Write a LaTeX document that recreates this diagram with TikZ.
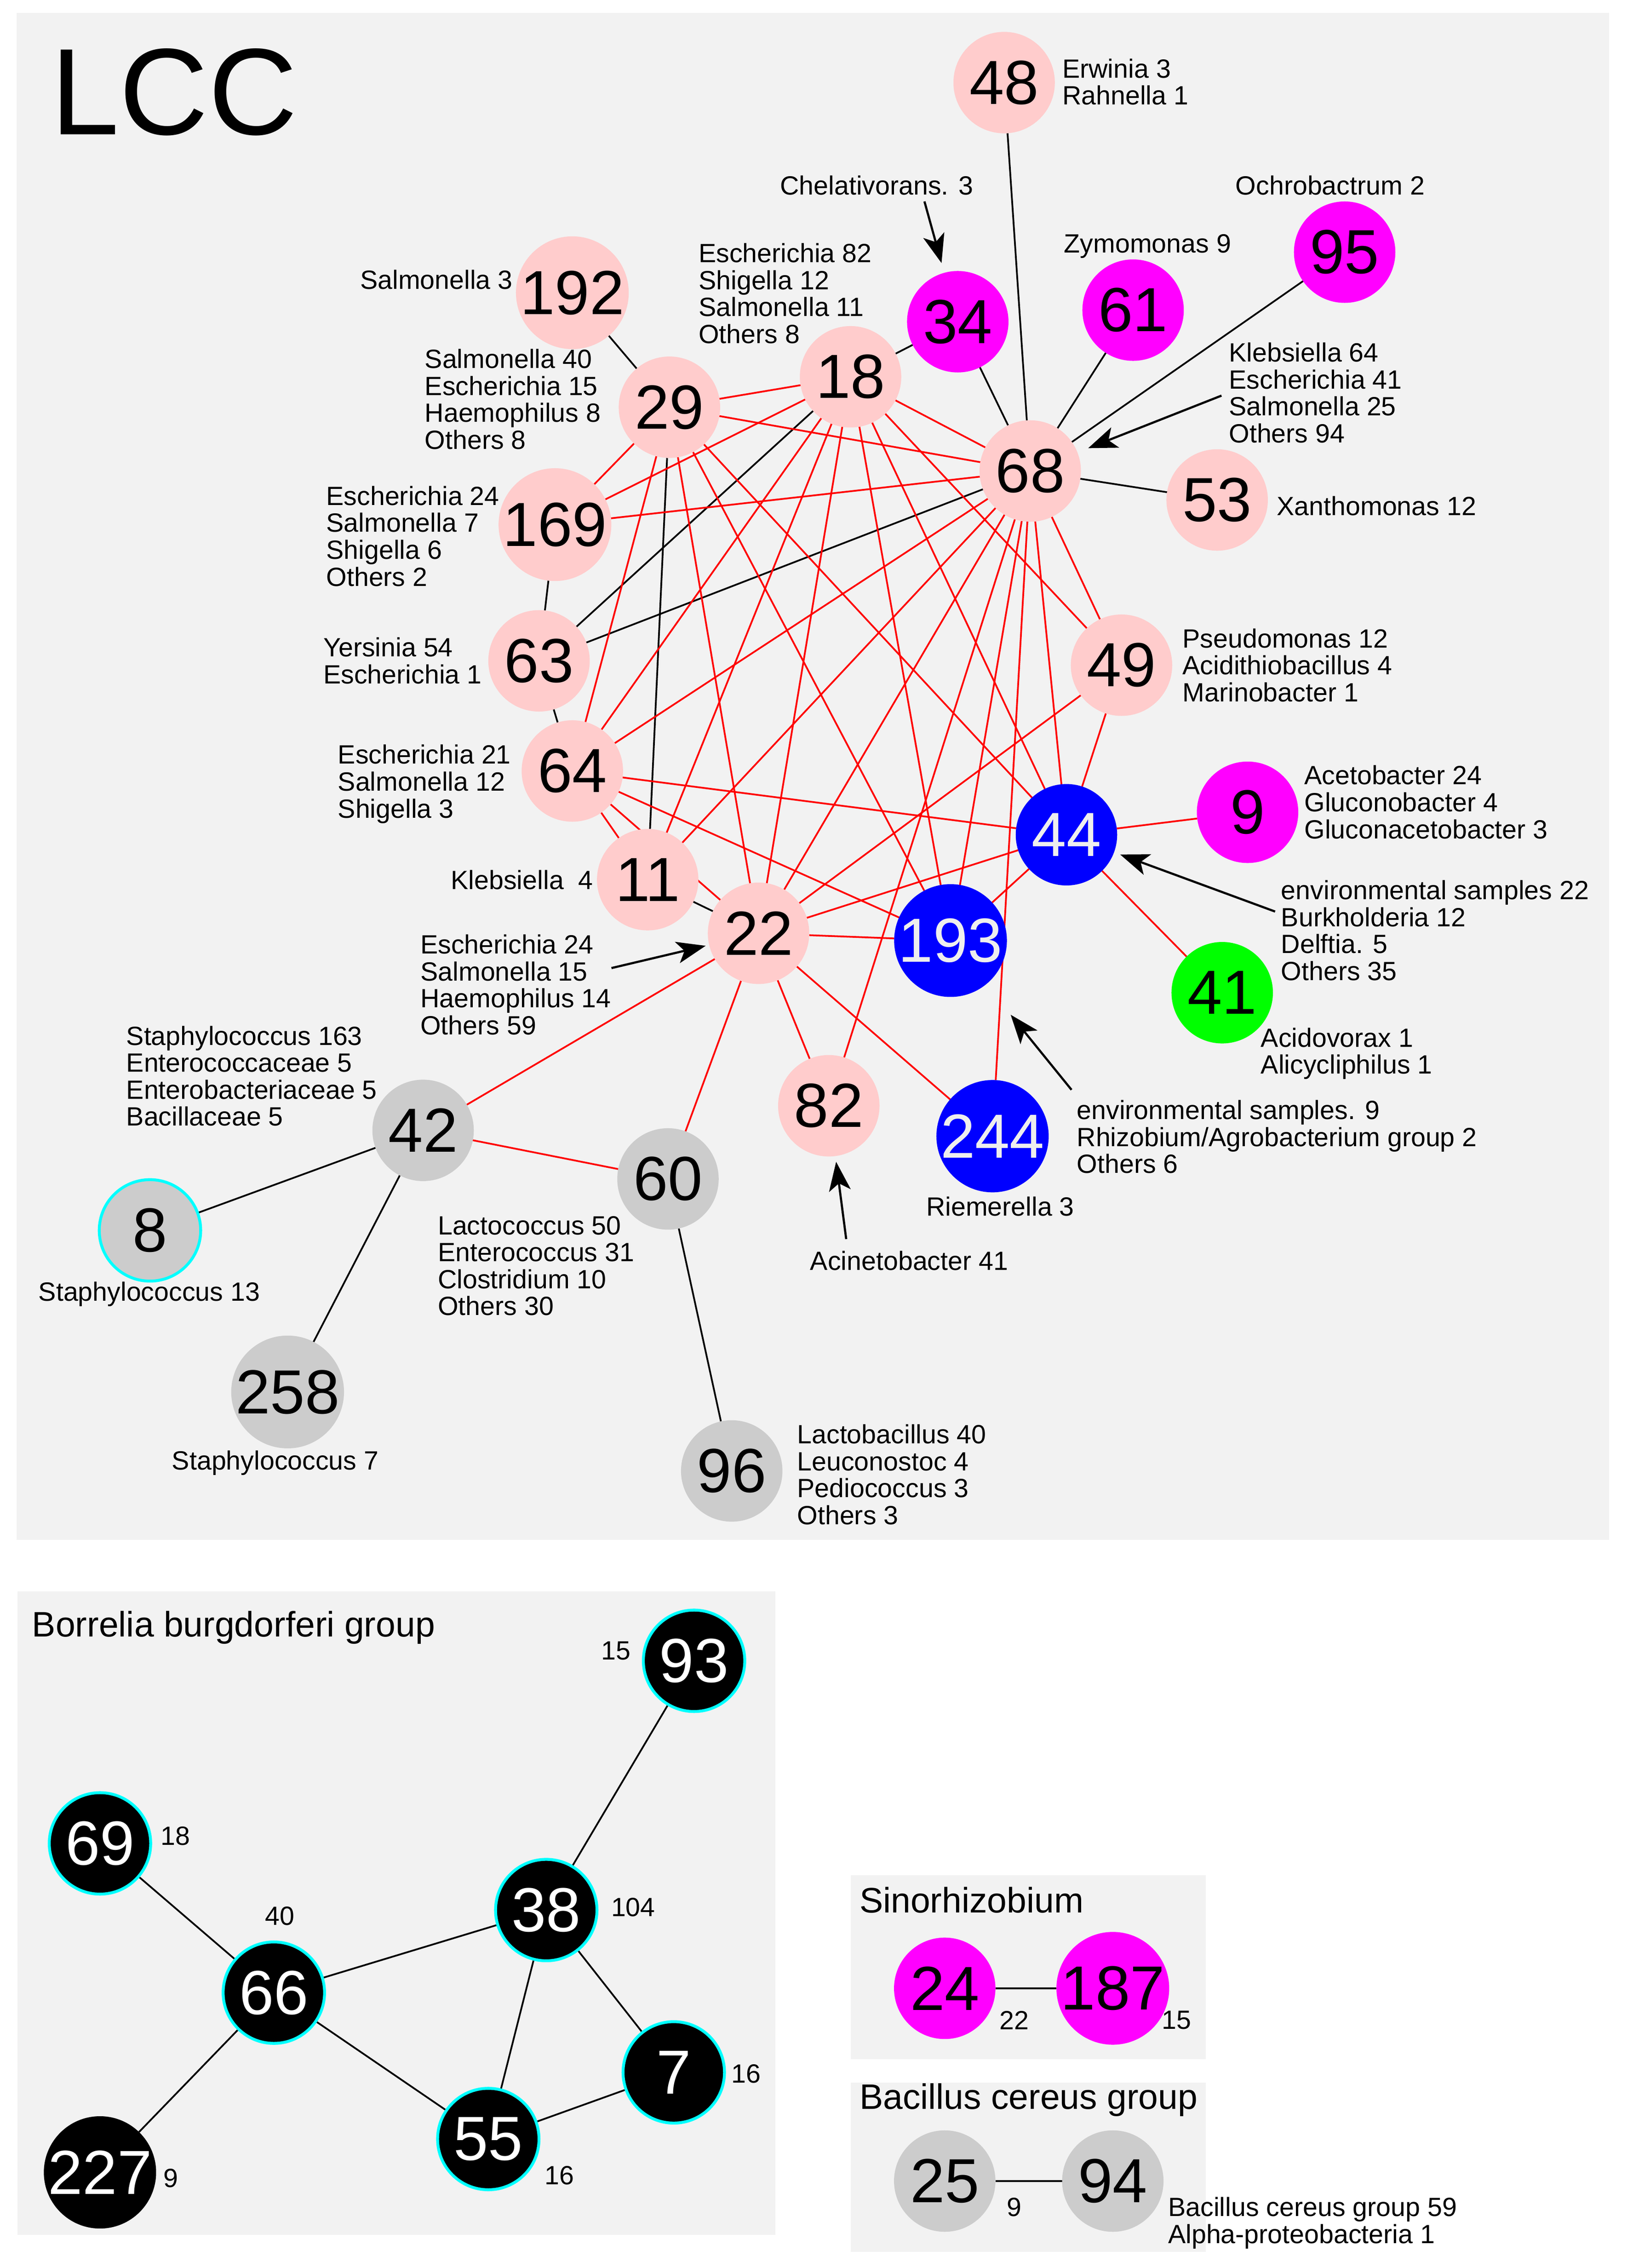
\documentclass[tikz,border=0pt]{standalone}
\usepackage{fontspec}
\setmainfont{Liberation Sans}
\usetikzlibrary{arrows.meta}
\definecolor{npink}{HTML}{FFCCCC}
\definecolor{nmag}{HTML}{FF00FF}
\definecolor{nblue}{HTML}{0000FF}
\definecolor{ngreen}{HTML}{00FF00}
\definecolor{ngray}{HTML}{CCCCCC}
\definecolor{ncyan}{HTML}{00FFFF}
\definecolor{panelbg}{HTML}{F2F2F2}
\definecolor{ered}{HTML}{FF0000}
\definecolor{ntext}{HTML}{EEEEEE}
\pgfdeclarelayer{bg}
\pgfdeclarelayer{edges}
\pgfsetlayers{bg,edges,main}
\newcommand\labfont{\fontsize{18.2}{18.6}\selectfont}
\begin{document}
\begin{tikzpicture}[x=1pt,y=-1pt,
  nd/.style={circle,minimum size=70pt,inner sep=0pt,outer sep=0pt,font=\fontsize{43}{43}\selectfont},
  pn/.style={nd,fill=npink},
  mn/.style={nd,fill=nmag},
  bn/.style={nd,fill=nblue,text=ntext},
  gn/.style={nd,fill=ngreen},
  yn/.style={nd,fill=ngray},
  cn/.style={nd,fill=ngray,draw=ncyan,line width=2pt},
  kn/.style={nd,fill=black,text=white,draw=ncyan,line width=2pt},
  kk/.style={nd,fill=black,text=white},
  lab/.style={font=\labfont,inner sep=0pt,align=left},
  ttl/.style={font=\fontsize{24.4}{24.4}\selectfont,inner sep=0pt,anchor=west},
  re/.style={draw=ered,line width=1.2pt},
  be/.style={draw=black,line width=1.2pt},
  arr/.style={draw=black,line width=1.5pt,-{Stealth[length=20pt,width=15pt,inset=5pt]}}
]
\useasboundingbox (0,0) rectangle (1127,1565);
\begin{pgfonlayer}{bg}
\fill[white] (0,0) rectangle (1127,1565);
\fill[panelbg] (11.5,9) rectangle (1110.5,1062.5);
\fill[panelbg] (12,1098) rectangle (535,1542);
\fill[panelbg] (587,1294) rectangle (832,1421);
\fill[panelbg] (587,1437) rectangle (832,1554);
\end{pgfonlayer}

% title
\node[font=\fontsize{85}{85}\selectfont,inner sep=0pt,anchor=west] (title) at (35,63.5) {LCC};

% LCC nodes
\node[pn] (n48) at (693,57) {48};
\node[pn] (n192) at (395,202) {192};
\node[mn] (n34) at (661,222) {34};
\node[mn] (n61) at (782,214) {61};
\node[mn] (n95) at (928,174) {95};
\node[pn] (n29) at (462,281) {29};
\node[pn] (n18) at (587,260) {18};
\node[pn] (n68) at (711,325) {68};
\node[pn] (n53) at (840,345) {53};
\node[pn] (n169) at (383,362) {169};
\node[pn] (n63) at (372,456) {63};
\node[pn] (n49) at (774,459) {49};
\node[pn] (n64) at (395,532) {64};
\node[bn] (n44) at (736,576) {44};
\node[mn] (n9) at (861,560.5) {9};
\node[pn] (n11) at (447,607) {11};
\node[pn] (n22) at (523.5,644) {22};
\node[bn] (n193) at (656,649) {193};
\node[gn] (n41) at (843.5,685) {41};
\node[pn] (n82) at (572,763) {82};
\node[bn] (n244) at (685,784) {244};
\node[yn] (n42) at (292,780) {42};
\node[yn] (n60) at (461,813.5) {60};
\node[cn] (n8) at (103.5,849) {8};
\node[yn] (n258) at (198.5,960.5) {258};
\node[yn] (n96) at (505,1015) {96};

% LCC labels
\node[lab,anchor=west] (l48) at (733,56.5) {Erwinia 3\\Rahnella 1};
\node[lab] (l34) at (605,128) {Chelativorans. 3};
\node[lab] (l95) at (918,128) {Ochrobactrum 2};
\node[lab] (l61) at (792,170) {Zymomonas 9};
\node[lab,anchor=east] (l192) at (354,193) {Salmonella 3};
\node[lab,anchor=west] (l18) at (482,202.5) {Escherichia 82\\Shigella 12\\Salmonella 11\\Others 8};
\node[lab,anchor=west] (l29) at (293,275.5) {Salmonella 40\\Escherichia 15\\Haemophilus 8\\Others 8};
\node[lab,anchor=west] (l68) at (848,271) {Klebsiella 64\\Escherichia 41\\Salmonella 25\\Others 94};
\node[lab,anchor=west] (l53) at (881,349) {Xanthomonas 12};
\node[lab,anchor=west] (l169) at (225,370) {Escherichia 24\\Salmonella 7\\Shigella 6\\Others 2};
\node[lab,anchor=west] (l63) at (223,456) {Yersinia 54\\Escherichia 1};
\node[lab,anchor=west] (l49) at (816,459) {Pseudomonas 12\\Acidithiobacillus 4\\Marinobacter 1};
\node[lab,anchor=west] (l64) at (233,541) {Escherichia 21\\Salmonella 12\\Shigella 3};
\node[lab,anchor=west] (l9) at (900,553.5) {Acetobacter 24\\Gluconobacter 4\\Gluconacetobacter 3};
\node[lab,anchor=west] (l11) at (311,607) {Klebsiella\ \ 4};
\node[lab,anchor=west] (l44) at (884,642) {environmental samples 22\\Burkholderia 12\\Delftia. 5\\Others 35};
\node[lab,anchor=west] (l22) at (290,679.5) {Escherichia 24\\Salmonella 15\\Haemophilus 14\\Others 59};
\node[lab,anchor=west] (l41) at (870,727) {Acidovorax 1\\Alicycliphilus 1};
\node[lab,anchor=west] (l42) at (87,742.5) {Staphylococcus 163\\Enterococcaceae 5\\Enterobacteriaceae 5\\Bacillaceae 5};
\node[lab,anchor=west] (l193) at (743,784.5) {environmental samples. 9\\Rhizobium/Agrobacterium group 2\\Others 6};
\node[lab,anchor=west] (l244) at (639,832.5) {Riemerella 3};
\node[lab,anchor=west] (l60) at (302,873.5) {Lactococcus 50\\Enterococcus 31\\Clostridium 10\\Others 30};
\node[lab] (l82) at (627.5,870) {Acinetobacter 41};
\node[lab] (l8) at (103,893) {Staphylococcus 13};
\node[lab] (l258) at (190,1009.5) {Staphylococcus 7};
\node[lab,anchor=west] (l96) at (550,1017.5) {Lactobacillus 40\\Leuconostoc 4\\Pediococcus 3\\Others 3};

% arrow tails
\coordinate (t34) at (638,139);
\coordinate (t68) at (843,273);
\coordinate (t22) at (422,668);
\coordinate (t44) at (880,629);
\coordinate (t193) at (739.5,752);
\coordinate (t82) at (584,855);
\draw[arr,shorten >=7pt] (t34) -- (n34);
\draw[arr,shorten >=8pt] (t68) -- (n68);
\draw[arr,shorten >=2.5pt] (t22) -- (n22);
\draw[arr,shorten >=4.5pt] (t44) -- (n44);
\draw[arr,shorten >=27pt] (t193) -- (n193);
\draw[arr,shorten >=4pt] (t82) -- (n82);

% Borrelia panel
\node[ttl] (tb) at (22,1123) {Borrelia burgdorferi group};
\node[kn] (b93) at (479,1146) {93};
\node[kn] (b69) at (69,1272) {69};
\node[kn] (b66) at (189,1375) {66};
\node[kn] (b38) at (377,1318) {38};
\node[kn] (b7) at (465,1430) {7};
\node[kn] (b55) at (337,1476) {55};
\node[kk] (b227) at (69,1499) {227};
\node[lab] (lb93) at (425,1139) {15};
\node[lab] (lb69) at (121,1267) {18};
\node[lab] (lb66) at (193,1322) {40};
\node[lab] (lb38) at (437,1316) {104};
\node[lab] (lb7) at (515,1431) {16};
\node[lab] (lb55) at (386,1501) {16};
\node[lab] (lb227) at (118,1503) {9};

% Sinorhizobium panel
\node[ttl] (ts) at (593,1311) {Sinorhizobium};
\node[mn] (s24) at (652,1372) {24};
\node[mn] (s187) at (768,1372) {187};
\node[lab] (ls24) at (700,1394) {22};
\node[lab] (ls187) at (812,1394) {15};

% Bacillus panel
\node[ttl] (tc) at (593,1449) {Bacillus cereus group};
\node[yn] (c25) at (652,1505) {25};
\node[yn] (c94) at (768,1505) {94};
\node[lab] (lc25) at (700,1523) {9};
\node[lab,anchor=west] (lc94) at (806,1534) {Bacillus cereus group 59\\Alpha-proteobacteria 1};

\begin{pgfonlayer}{edges}
\foreach \a/\b in {48/68,34/68,61/68,95/68,53/68,63/68,18/34,18/63,192/29,29/11,11/22,169/63,63/64,42/8,42/258,60/96}
  \draw[be] (n\a) -- (n\b);
\foreach \a/\b in {29/18,29/68,29/169,29/64,29/22,29/193,29/44,18/169,18/64,18/11,18/22,18/193,18/44,18/49,18/68,68/169,68/64,68/11,68/22,68/82,68/193,68/244,68/44,68/49,64/44,64/193,64/22,64/11,22/49,22/44,22/193,22/244,22/82,22/60,22/42,193/44,44/49,44/9,44/41,42/60}
  \draw[re] (n\a) -- (n\b);
\foreach \a/\b in {93/38,69/66,66/38,66/227,66/55,38/55,38/7,7/55}
  \draw[be] (b\a) -- (b\b);
\draw[be] (s24) -- (s187);
\draw[be] (c25) -- (c94);
\end{pgfonlayer}
\end{tikzpicture}
\end{document}
